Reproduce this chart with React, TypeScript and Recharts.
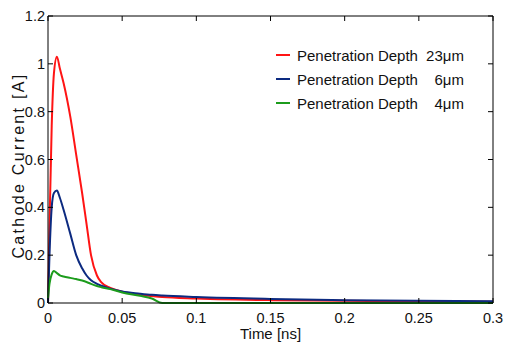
import { LineChart, Line, XAxis, YAxis, Legend, ReferenceLine } from "recharts"

// time axis in ns
const time = [0, 0.001, 0.0025, 0.004, 0.006, 0.008, 0.0105, 0.015, 0.019, 0.023, 0.026, 0.029, 0.033, 0.036, 0.042, 0.05, 0.062, 0.07, 0.077, 0.1, 0.15, 0.2, 0.25, 0.3]

// cathode current [A] per penetration depth
const depth23 = [0.0, 0.32, 0.74, 0.96, 1.03, 0.98, 0.92, 0.78, 0.62, 0.46, 0.33, 0.2, 0.115, 0.086, 0.063, 0.047, 0.034, 0.029, 0.025, 0.019, 0.012, 0.009, 0.007, 0.005]
const depth6 = [0.0, 0.2, 0.4, 0.46, 0.47, 0.44, 0.39, 0.29, 0.2, 0.145, 0.115, 0.095, 0.08, 0.072, 0.06, 0.048, 0.039, 0.034, 0.031, 0.025, 0.017, 0.012, 0.009, 0.007]
const depth4 = [0.02, 0.08, 0.12, 0.134, 0.125, 0.116, 0.111, 0.105, 0.1, 0.094, 0.088, 0.08, 0.071, 0.066, 0.058, 0.044, 0.03, 0.019, 0.0, 0, 0, 0, 0, 0]

const seriesLabels = ["23μm", "6μm", "4μm"]
const seriesColors = ["#ff1414", "#0c2a80", "#1c9c1c"]

const xTicks = [0, 0.05, 0.1, 0.15, 0.2, 0.25, 0.3]
const yTicks = [0, 0.2, 0.4, 0.6, 0.8, 1, 1.2]

const data = time.map((t, i) => ({ t, d23: depth23[i], d6: depth6[i], d4: depth4[i] }))
const keys = ["d23", "d6", "d4"]

const W = 507
const H = 346
const margin = { top: 16, right: 14, bottom: 0, left: 0 }
const yAxisWidth = 48
const xAxisHeight = 43
const plotTop = margin.top
const plotBottom = H - margin.bottom - xAxisHeight
const plotLeft = margin.left + yAxisWidth
const plotRight = W - margin.right
const font = "'Liberation Sans', Arial, sans-serif"
const tickLen = 5

const XTick = ({ x, payload }: any) => (
  <g>
    <line x1={x} x2={x} y1={plotBottom} y2={plotBottom - tickLen} stroke="#000" />
    <line x1={x} x2={x} y1={plotTop} y2={plotTop + tickLen} stroke="#000" />
    <text x={x} y={plotBottom + 20} textAnchor="middle" fontSize={14.5} fontFamily={font} fill="#111">
      {payload.value}
    </text>
  </g>
)

const YTick = ({ y, payload }: any) => (
  <g>
    <line x1={plotLeft} x2={plotLeft + tickLen} y1={y} y2={y} stroke="#000" />
    <line x1={plotRight} x2={plotRight - tickLen} y1={y} y2={y} stroke="#000" />
    <text x={plotLeft - 3} y={y + 5} textAnchor="end" fontSize={14.5} fontFamily={font} fill="#111">
      {payload.value}
    </text>
  </g>
)

const LegendBox = () => (
  <div style={{ fontFamily: font, fontSize: 15, color: "#111" }}>
    {seriesLabels.map((s, i) => (
      <div key={s} style={{ display: "flex", alignItems: "center", height: 24, whiteSpace: "nowrap" }}>
        <span style={{ display: "inline-block", width: 14, height: 2, background: seriesColors[i], marginRight: 7 }} />
        <span>Penetration Depth</span>
        <span style={{ display: "inline-block", width: 46, textAlign: "right" }}>{s}</span>
      </div>
    ))}
  </div>
)

export default function App() {
  return (
    <div style={{ position: "absolute", left: 0, top: 0, background: "#fff" }}>
      <LineChart width={W} height={H} data={data} margin={margin}>
        <XAxis
          dataKey="t"
          type="number"
          domain={[0, 0.3]}
          ticks={xTicks}
          tickSize={0}
          tickLine={false}
          stroke="#000"
          height={xAxisHeight}
          tick={<XTick />}
          label={{
            content: () => (
              <text x={(plotLeft + plotRight) / 2} y={339} textAnchor="middle" fontSize={15} fontFamily={font} fill="#111">
                Time [ns]
              </text>
            ),
          }}
        />
        <YAxis
          type="number"
          domain={[0, 1.2]}
          ticks={yTicks}
          width={yAxisWidth}
          tickSize={0}
          tickLine={false}
          stroke="#000"
          tick={<YTick />}
          label={{
            content: () => (
              <text
                x={24}
                y={(plotTop + plotBottom) / 2 + 6}
                transform={`rotate(-90, 24, ${(plotTop + plotBottom) / 2 + 6})`}
                textAnchor="middle"
                fontSize={16}
                letterSpacing={2.3}
                fontFamily={font}
                fill="#111"
              >
                Cathode Current [A]
              </text>
            ),
          }}
        />
        <ReferenceLine y={1.2} stroke="#000" />
        <ReferenceLine x={0.3} stroke="#000" />
        {keys.map((k, i) => (
          <Line
            key={k}
            dataKey={k}
            type="monotone"
            stroke={seriesColors[i]}
            strokeWidth={2}
            dot={false}
            isAnimationActive={false}
          />
        ))}
        <Legend
          layout="vertical"
          align="center"
          verticalAlign="middle"
          content={<LegendBox />}
          wrapperStyle={{ left: 276, top: 43, width: "auto", height: "auto" }}
        />
      </LineChart>
    </div>
  )
}
